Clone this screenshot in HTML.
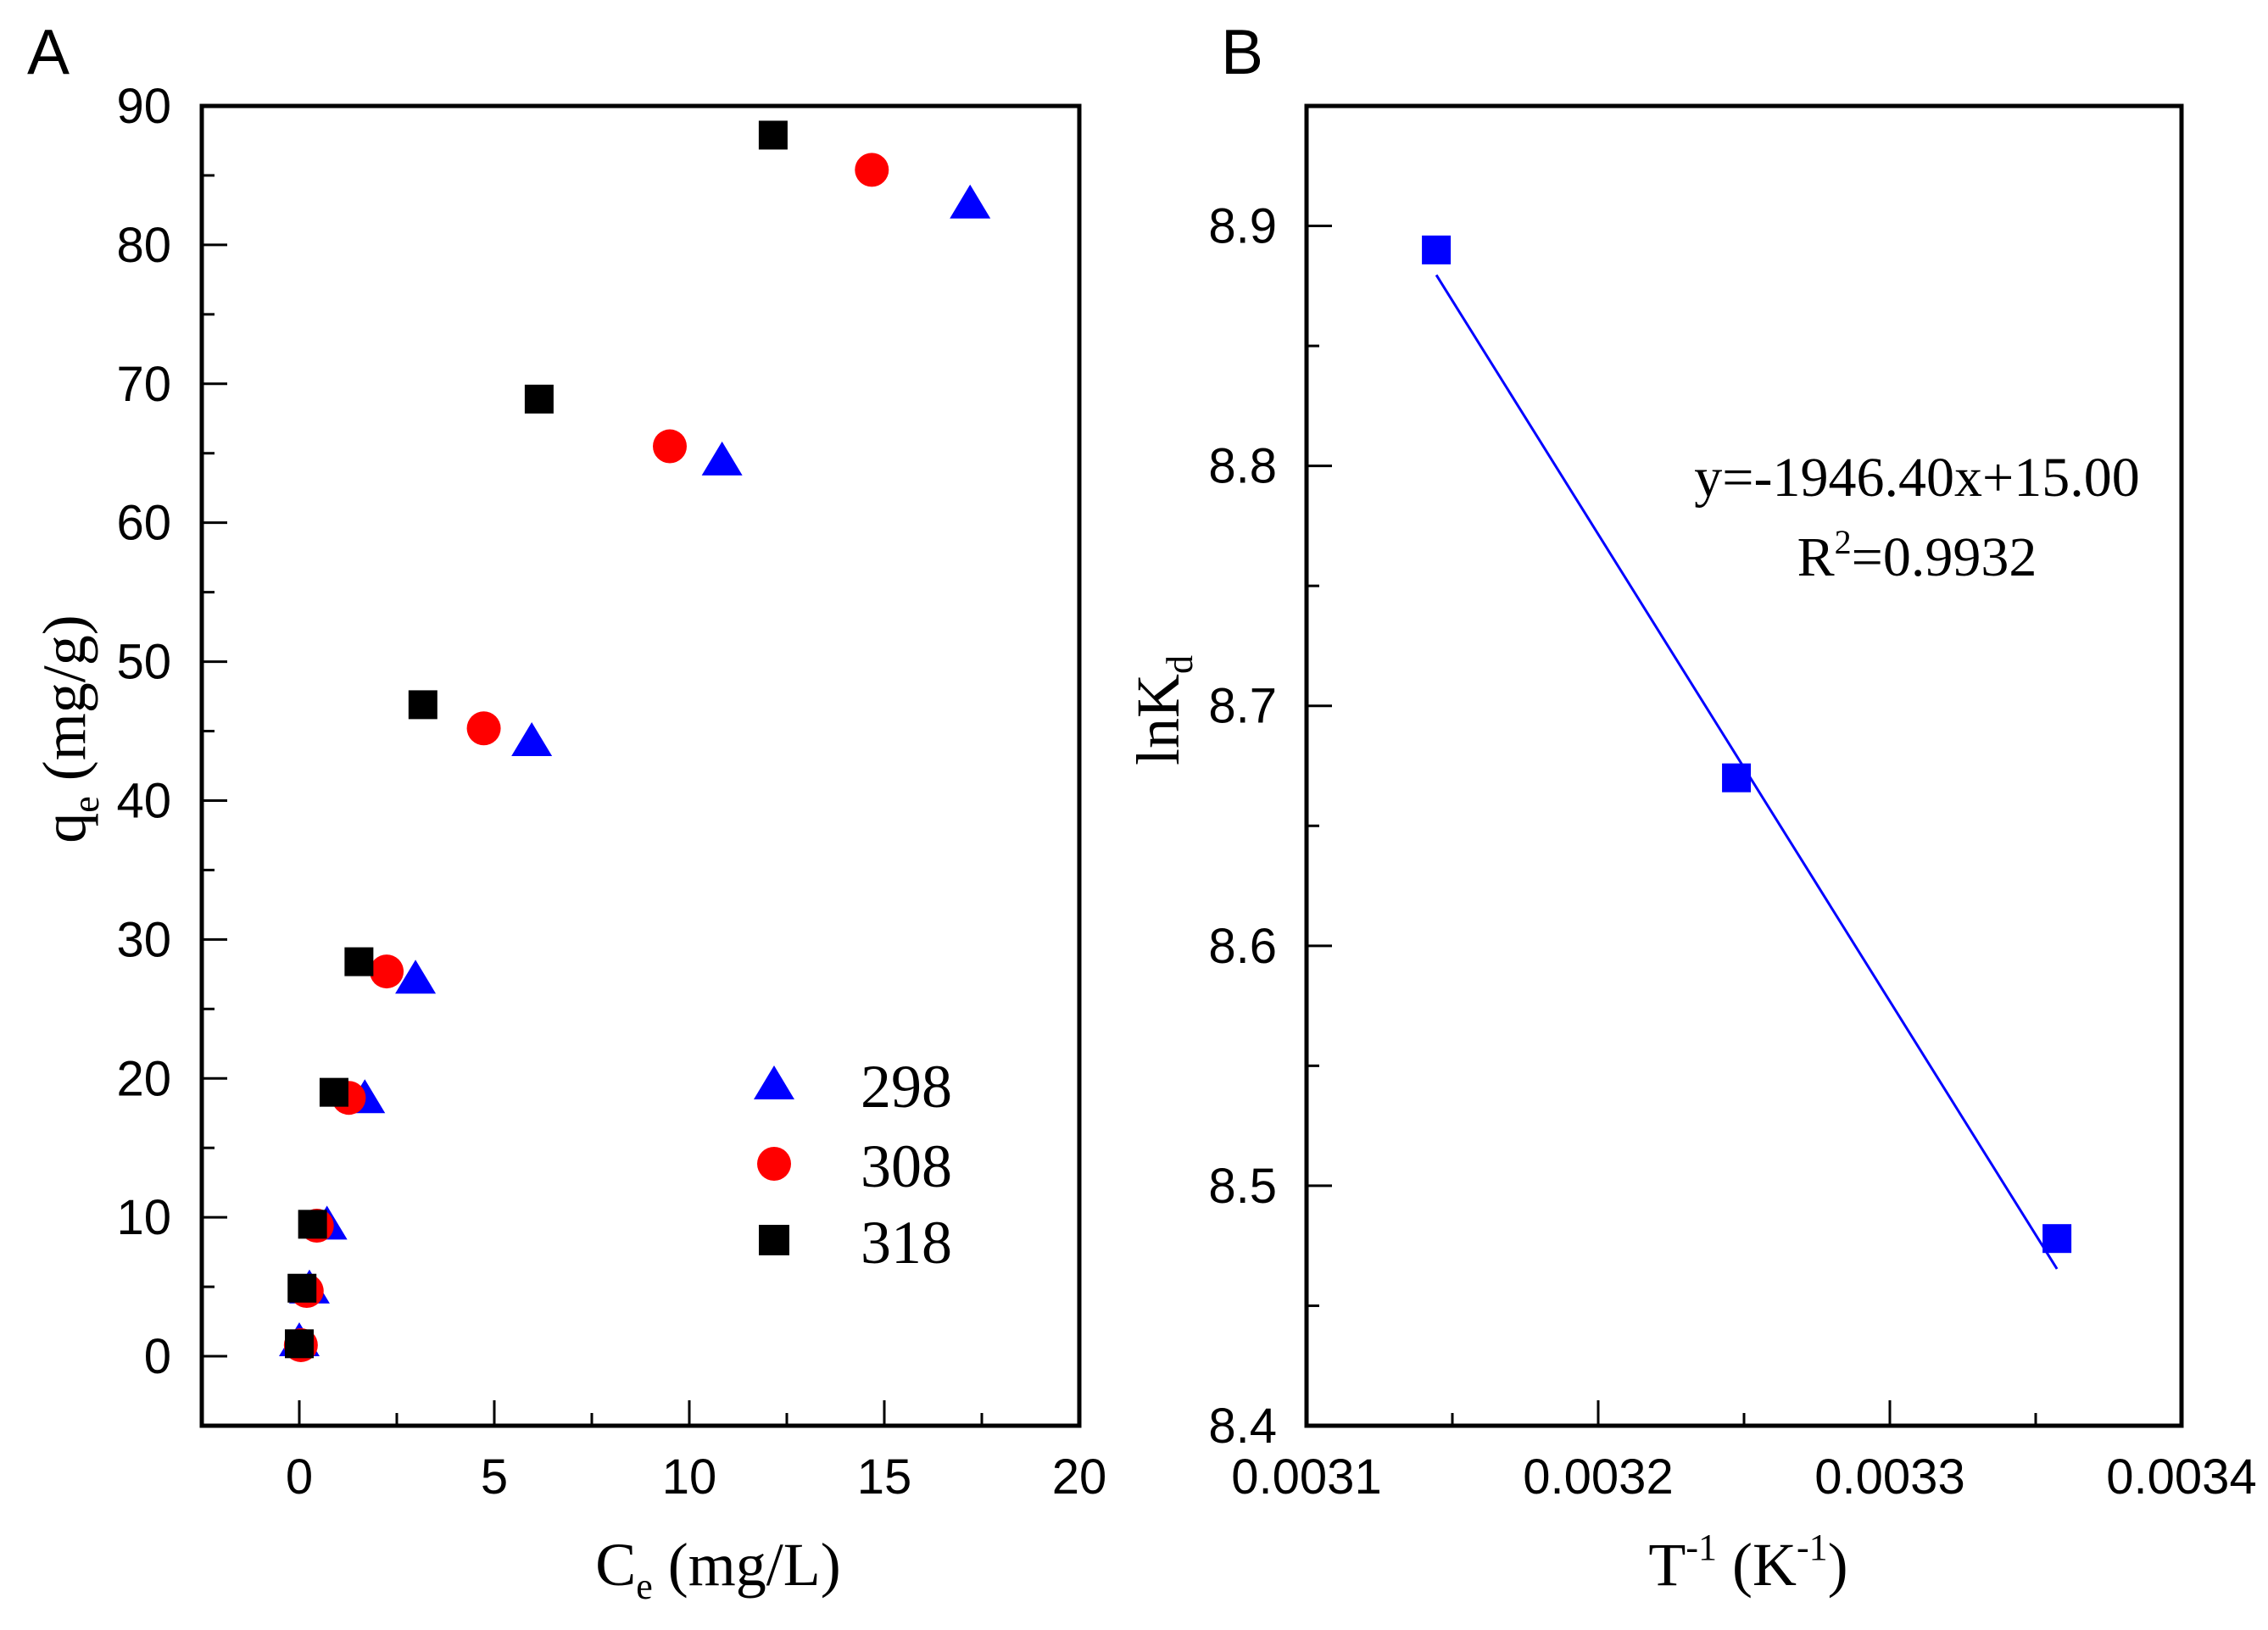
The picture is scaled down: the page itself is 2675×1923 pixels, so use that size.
<!DOCTYPE html>
<html><head><meta charset="utf-8"><style>
html,body{margin:0;padding:0;background:#fff;}
svg{display:block;}
text{font-family:"Liberation Sans",Arial,sans-serif;}
.t{font-family:"Liberation Serif","Times New Roman",serif;}
</style></head><body>
<svg id="fig" width="2675" height="1923" viewBox="0 0 2675 1923" xmlns="http://www.w3.org/2000/svg">
<text x="32" y="87" font-size="75">A</text>
<text x="1440" y="87" font-size="75">B</text>
<g id="gA"></g>
<g id="gB"></g>
<text class="t" x="847" y="1870" font-size="72" text-anchor="middle">C<tspan font-size="44" dy="16">e</tspan><tspan dy="-16"> (mg/L)</tspan></text>
<text class="t" transform="translate(100,860) rotate(-90)" font-size="72" text-anchor="middle">q<tspan font-size="44" dy="16">e</tspan><tspan dy="-16"> (mg/g)</tspan></text>
<text class="t" x="2062" y="1870" font-size="72" text-anchor="middle">T<tspan font-size="44" dy="-30">-1</tspan><tspan dy="30"> (K</tspan><tspan font-size="44" dy="-30">-1</tspan><tspan dy="30">)</tspan></text>
<text class="t" transform="translate(1390,838) rotate(-90)" font-size="72" text-anchor="middle">lnK<tspan font-size="44" dy="16">d</tspan></text>
<text class="t" x="2261" y="585" font-size="66" text-anchor="middle">y=-1946.40x+15.00</text>
<text class="t" x="2261" y="679" font-size="66" text-anchor="middle">R<tspan font-size="40" dy="-26">2</tspan><tspan dy="26">=0.9932</tspan></text>
</svg>
<script>
// Panel A data
const ceT298 = [17.2, 10.84, 5.96, 2.98, 1.68, 0.71, 0.26, 0.0];
const qeT298 = [83.0, 64.5, 44.3, 27.2, 18.6, 9.5, 4.9, 1.1];
const ceT308 = [14.68, 9.5, 4.73, 2.24, 1.27, 0.45, 0.19, 0.04];
const qeT308 = [85.4, 65.5, 45.2, 27.7, 18.6, 9.4, 4.7, 0.8];
const ceT318 = [12.15, 6.15, 3.17, 1.53, 0.89, 0.34, 0.07, 0.0];
const qeT318 = [87.9, 68.9, 46.9, 28.4, 19.0, 9.5, 4.9, 0.9];
const xTicksA = [0, 5, 10, 15, 20];
const yTicksA = [0, 10, 20, 30, 40, 50, 60, 70, 80, 90];
const legendLabels = ["298", "308", "318"];
// Panel B data
const invT = [0.0031445, 0.0032474, 0.0033573];
const lnKd = [8.890, 8.670, 8.478];
const fitSlope = -1946.40;
const fitIntercept = 15.00;
const xTicksB = ["0.0031", "0.0032", "0.0033", "0.0034"];
const yTicksB = ["8.4", "8.5", "8.6", "8.7", "8.8", "8.9"];

const NS = "http://www.w3.org/2000/svg";
function mk(parent, tag, attrs, txt){
  const e = document.createElementNS(NS, tag);
  for (const k in attrs) e.setAttribute(k, attrs[k]);
  if (txt !== undefined) e.textContent = txt;
  parent.appendChild(e);
  return e;
}
const A = {l:238, r:1273, t:125, b:1682, x0:-2.5, x1:20, y0:-5, y1:90};
const xA = v => A.l + (v - A.x0) / (A.x1 - A.x0) * (A.r - A.l);
const yA = v => A.b - (v - A.y0) / (A.y1 - A.y0) * (A.b - A.t);
const B = {l:1541, r:2573, t:125, b:1682, x0:0.0031, x1:0.0034, y0:8.4, y1:8.95};
const xB = v => B.l + (v - B.x0) / (B.x1 - B.x0) * (B.r - B.l);
const yB = v => B.b - (v - B.y0) / (B.y1 - B.y0) * (B.b - B.t);

const gA = document.getElementById('gA');
const gB = document.getElementById('gB');

function frame(g, P){
  const r = mk(g, 'rect', {x:P.l, y:P.t, width:P.r-P.l, height:P.b-P.t, fill:'none', stroke:'#000', 'stroke-width':5});
  
  
}
frame(gA, A); frame(gB, B);

for (let v = -2.5; v <= 20.01; v += 2.5) {
  const major = Math.abs(v % 5) < 1e-6;
  const ln = mk(gA, 'line', {x1:xA(v), x2:xA(v), y1:A.b, y2:A.b-(major?30:15), stroke:'#000', 'stroke-width':3});
  
  
}
xTicksA.forEach(v => {
  const t = mk(gA, 'text', {x:xA(v), y:1762, 'font-size':58, 'text-anchor':'middle'}, String(v));
  
  
});
for (let v = -5; v <= 90; v += 5) {
  const major = v % 10 === 0;
  const ln = mk(gA, 'line', {x1:A.l, x2:A.l+(major?30:15), y1:yA(v), y2:yA(v), stroke:'#000', 'stroke-width':3});
  
  
}
yTicksA.forEach(v => {
  const t = mk(gA, 'text', {x:202, y:yA(v)+20, 'font-size':58, 'text-anchor':'end'}, String(v));
  
  
});

function tri(g, cx, cy, color){
  return mk(g, 'polygon', {points:`${cx-24},${cy+18} ${cx+24},${cy+18} ${cx},${cy-22}`, fill:color});
}
function circ(g, cx, cy, color){
  return mk(g, 'circle', {cx:cx, cy:cy, r:20, fill:color});
}
function sq(g, cx, cy, color, s){
  s = s || 36;
  return mk(g, 'rect', {x:cx-s/2, y:cy-s/2, width:s, height:s, fill:color});
}
ceT298.forEach((c, i) => {
  const m = tri(gA, xA(c), yA(qeT298[i]), '#0000ff');
  
  
});
ceT308.forEach((c, i) => {
  const m = circ(gA, xA(c), yA(qeT308[i]), '#ff0000');
  
  
});
ceT318.forEach((c, i) => {
  const m = sq(gA, xA(c), yA(qeT318[i]), '#000000', 34);
  
  
});
const lg = mk(gA, 'g', {});


const lgY = [1279, 1373, 1463];
let m1 = tri(lg, 913, lgY[0], '#0000ff');


let m2 = circ(lg, 913, lgY[1], '#ff0000');


let m3 = sq(lg, 913, lgY[2], '#000000', 36);


legendLabels.forEach((s, i) => {
  const t = mk(lg, 'text', {x:1015, y:lgY[i]+27, 'font-size':72, class:'t'}, s);
  
  
});

for (let i = 0; i <= 6; i++) {
  const v = 0.0031 + i * 0.00005;
  const major = i % 2 === 0;
  const ln = mk(gB, 'line', {x1:xB(v), x2:xB(v), y1:B.b, y2:B.b-(major?30:15), stroke:'#000', 'stroke-width':3});
  
  
}
xTicksB.forEach(s => {
  const t = mk(gB, 'text', {x:xB(parseFloat(s)), y:1762, 'font-size':58, 'text-anchor':'middle'}, s);
  
  
});
for (let i = 0; i <= 11; i++) {
  const v = 8.4 + i * 0.05;
  const major = i % 2 === 0;
  const ln = mk(gB, 'line', {x1:B.l, x2:B.l+(major?30:15), y1:yB(v), y2:yB(v), stroke:'#000', 'stroke-width':3});
  
  
}
yTicksB.forEach(s => {
  const t = mk(gB, 'text', {x:1506, y:yB(parseFloat(s))+20, 'font-size':58, 'text-anchor':'end'}, s);
  
  
});
const fx0 = Math.min(...invT), fx1 = Math.max(...invT);
const fl = mk(gB, 'line', {x1:xB(fx0), y1:yB(fitSlope*fx0+fitIntercept), x2:xB(fx1), y2:yB(fitSlope*fx1+fitIntercept), stroke:'#0000ff', 'stroke-width':3});


invT.forEach((x, i) => {
  const m = sq(gB, xB(x), yB(lnKd[i]), '#0000ff', 34);
  
  
});
</script>
</body></html>
